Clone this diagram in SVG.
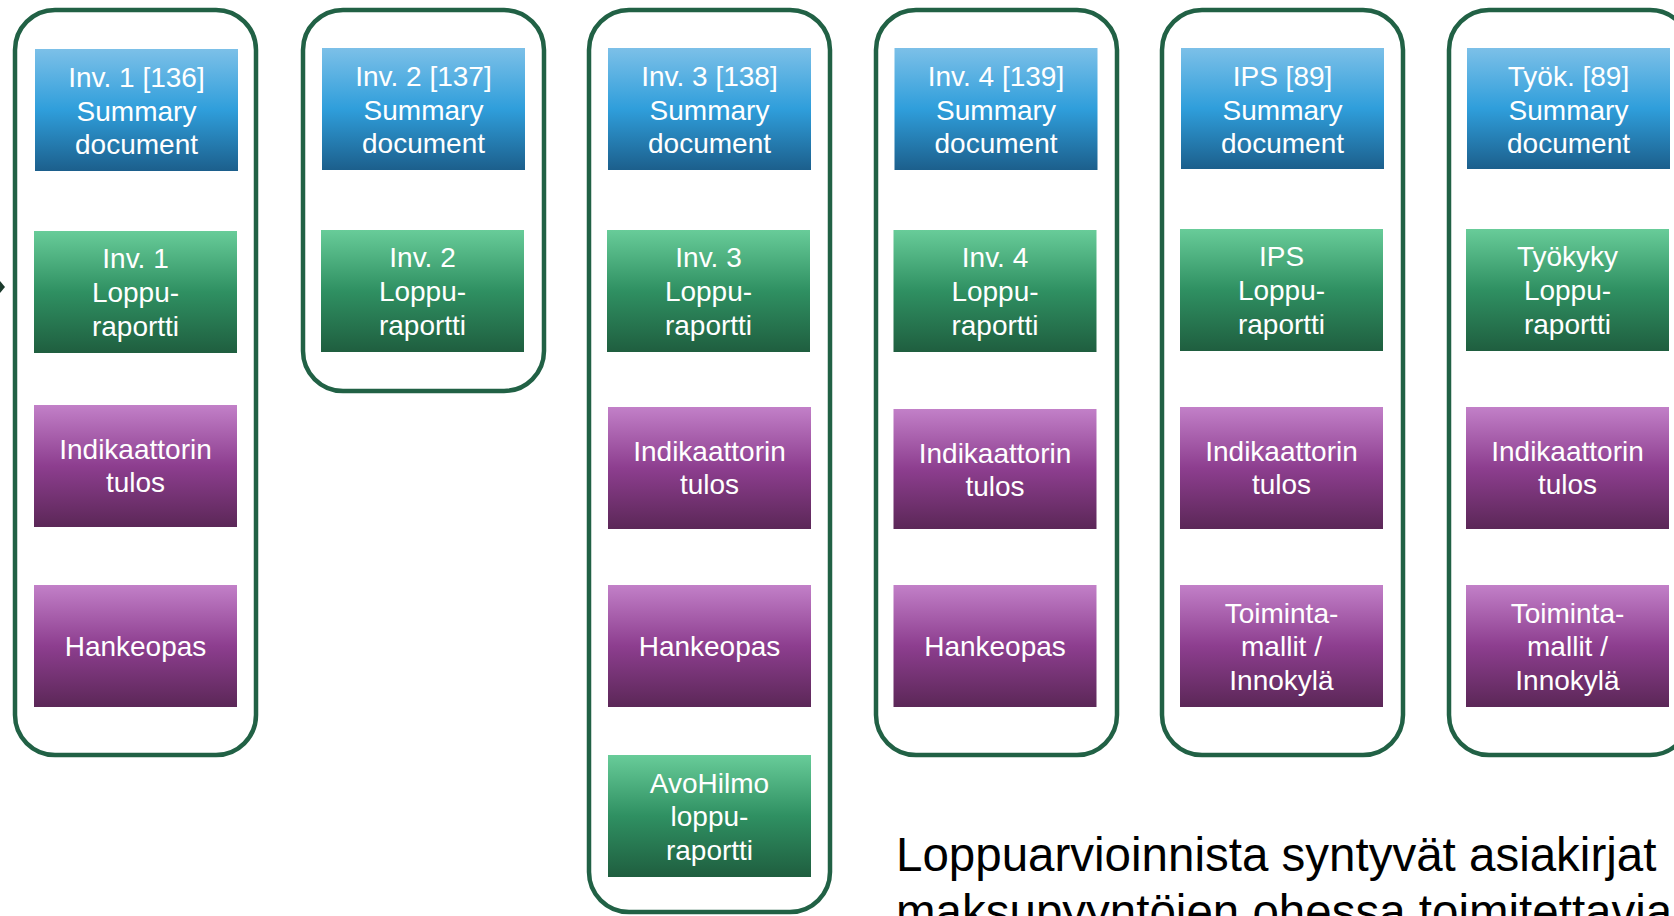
<svg xmlns="http://www.w3.org/2000/svg" width="1674" height="916" viewBox="0 0 1674 916">
<defs>
<linearGradient id="gb" x1="0" y1="0" x2="0" y2="1">
<stop offset="0" stop-color="#7cc0e8"/><stop offset="0.5" stop-color="#2f9edb"/><stop offset="1" stop-color="#1c5f8c"/>
</linearGradient>
<linearGradient id="gg" x1="0" y1="0" x2="0" y2="1">
<stop offset="0" stop-color="#68cc99"/><stop offset="0.5" stop-color="#2f9062"/><stop offset="1" stop-color="#1f5e3f"/>
</linearGradient>
<linearGradient id="gp" x1="0" y1="0" x2="0" y2="1">
<stop offset="0" stop-color="#c280c8"/><stop offset="0.5" stop-color="#8d3e8f"/><stop offset="1" stop-color="#5b2757"/>
</linearGradient>
<style>
.c{fill:#ffffff;stroke:#216145;stroke-width:4.5}
.b{fill:url(#gb)}.g{fill:url(#gg)}.p{fill:url(#gp)}
.t{font-family:"Liberation Sans",Arial,sans-serif;font-size:28px;fill:#ffffff;text-anchor:middle}
.big{font-family:"Liberation Sans",Arial,sans-serif;font-size:47.5px;fill:#000000}
</style>
</defs>
<rect width="1674" height="916" fill="#ffffff"/>

<g id="containers">
<rect class="c" x="15" y="10" width="241" height="745" rx="40"/>
<rect class="c" x="303" y="10" width="241" height="381" rx="40"/>
<rect class="c" x="589" y="10" width="241" height="902" rx="40"/>
<rect class="c" x="876" y="10" width="241" height="745" rx="40"/>
<rect class="c" x="1162" y="10" width="241" height="745" rx="40"/>
<rect class="c" x="1449" y="10" width="241" height="745" rx="40"/>
</g>

<g id="connectors">
<path d="M0,281 L5,287 L0,293 Z" fill="#1b3b2c"/>
</g>

<!-- Column 1 -->
<g id="inv1-summary"><rect class="b" x="35" y="49" width="203" height="122"/>
<text class="t" x="136.5" y="87">Inv. 1 [136]</text><text class="t" x="136.5" y="121">Summary</text><text class="t" x="136.5" y="154">document</text></g>
<g id="inv1-loppu"><rect class="g" x="34" y="231" width="203" height="122"/>
<text class="t" x="135.5" y="268">Inv. 1</text><text class="t" x="135.5" y="302">Loppu-</text><text class="t" x="135.5" y="336">raportti</text></g>
<g id="inv1-ind"><rect class="p" x="34" y="405" width="203" height="122"/>
<text class="t" x="135.5" y="459">Indikaattorin</text><text class="t" x="135.5" y="492">tulos</text></g>
<g id="inv1-hanke"><rect class="p" x="34" y="585" width="203" height="122"/>
<text class="t" x="135.5" y="656">Hankeopas</text></g>

<!-- Column 2 -->
<g id="inv2-summary"><rect class="b" x="322" y="48" width="203" height="122"/>
<text class="t" x="423.5" y="86">Inv. 2 [137]</text><text class="t" x="423.5" y="120">Summary</text><text class="t" x="423.5" y="153">document</text></g>
<g id="inv2-loppu"><rect class="g" x="321" y="230" width="203" height="122"/>
<text class="t" x="422.5" y="267">Inv. 2</text><text class="t" x="422.5" y="301">Loppu-</text><text class="t" x="422.5" y="335">raportti</text></g>

<!-- Column 3 -->
<g id="inv3-summary"><rect class="b" x="608" y="48" width="203" height="122"/>
<text class="t" x="709.5" y="86">Inv. 3 [138]</text><text class="t" x="709.5" y="120">Summary</text><text class="t" x="709.5" y="153">document</text></g>
<g id="inv3-loppu"><rect class="g" x="607" y="230" width="203" height="122"/>
<text class="t" x="708.5" y="267">Inv. 3</text><text class="t" x="708.5" y="301">Loppu-</text><text class="t" x="708.5" y="335">raportti</text></g>
<g id="inv3-ind"><rect class="p" x="608" y="407" width="203" height="122"/>
<text class="t" x="709.5" y="461">Indikaattorin</text><text class="t" x="709.5" y="494">tulos</text></g>
<g id="inv3-hanke"><rect class="p" x="608" y="585" width="203" height="122"/>
<text class="t" x="709.5" y="656">Hankeopas</text></g>
<g id="inv3-avohilmo"><rect class="g" x="608" y="755" width="203" height="122"/>
<text class="t" x="709.5" y="793">AvoHilmo</text><text class="t" x="709.5" y="826">loppu-</text><text class="t" x="709.5" y="860">raportti</text></g>

<!-- Column 4 -->
<g id="inv4-summary"><rect class="b" x="894.5" y="48" width="203" height="122"/>
<text class="t" x="996" y="86">Inv. 4 [139]</text><text class="t" x="996" y="120">Summary</text><text class="t" x="996" y="153">document</text></g>
<g id="inv4-loppu"><rect class="g" x="893.5" y="230" width="203" height="122"/>
<text class="t" x="995" y="267">Inv. 4</text><text class="t" x="995" y="301">Loppu-</text><text class="t" x="995" y="335">raportti</text></g>
<g id="inv4-ind"><rect class="p" x="893.5" y="409" width="203" height="120"/>
<text class="t" x="995" y="463">Indikaattorin</text><text class="t" x="995" y="496">tulos</text></g>
<g id="inv4-hanke"><rect class="p" x="893.5" y="585" width="203" height="122"/>
<text class="t" x="995" y="656">Hankeopas</text></g>

<!-- Column 5 -->
<g id="ips-summary"><rect class="b" x="1181" y="48" width="203" height="121"/>
<text class="t" x="1282.5" y="86">IPS [89]</text><text class="t" x="1282.5" y="120">Summary</text><text class="t" x="1282.5" y="153">document</text></g>
<g id="ips-loppu"><rect class="g" x="1180" y="229" width="203" height="122"/>
<text class="t" x="1281.5" y="266">IPS</text><text class="t" x="1281.5" y="300">Loppu-</text><text class="t" x="1281.5" y="334">raportti</text></g>
<g id="ips-ind"><rect class="p" x="1180" y="407" width="203" height="122"/>
<text class="t" x="1281.5" y="461">Indikaattorin</text><text class="t" x="1281.5" y="494">tulos</text></g>
<g id="ips-toiminta"><rect class="p" x="1180" y="585" width="203" height="122"/>
<text class="t" x="1281.5" y="623">Toiminta-</text><text class="t" x="1281.5" y="656">mallit /</text><text class="t" x="1281.5" y="690">Innokylä</text></g>

<!-- Column 6 -->
<g id="tyok-summary"><rect class="b" x="1467" y="48" width="203" height="121"/>
<text class="t" x="1568.5" y="86">Työk. [89]</text><text class="t" x="1568.5" y="120">Summary</text><text class="t" x="1568.5" y="153">document</text></g>
<g id="tyok-loppu"><rect class="g" x="1466" y="229" width="203" height="122"/>
<text class="t" x="1567.5" y="266">Työkyky</text><text class="t" x="1567.5" y="300">Loppu-</text><text class="t" x="1567.5" y="334">raportti</text></g>
<g id="tyok-ind"><rect class="p" x="1466" y="407" width="203" height="122"/>
<text class="t" x="1567.5" y="461">Indikaattorin</text><text class="t" x="1567.5" y="494">tulos</text></g>
<g id="tyok-toiminta"><rect class="p" x="1466" y="585" width="203" height="122"/>
<text class="t" x="1567.5" y="623">Toiminta-</text><text class="t" x="1567.5" y="656">mallit /</text><text class="t" x="1567.5" y="690">Innokylä</text></g>

<g id="caption">
<text class="big" x="896" y="871">Loppuarvioinnista syntyvät asiakirjat</text>
<text class="big" x="896" y="928">maksupyyntöjen ohessa toimitettavia</text>
</g>
</svg>
